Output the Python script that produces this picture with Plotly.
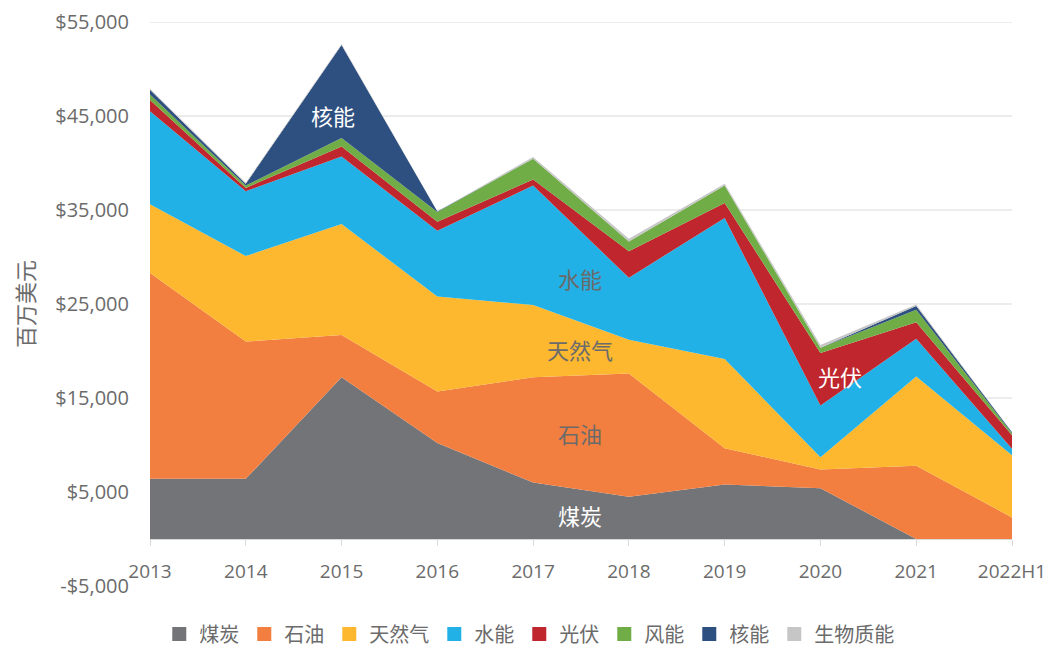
import plotly.graph_objects as go

years = ["2013", "2014", "2015", "2016", "2017", "2018", "2019", "2020", "2021", "2022H1"]

coal = [6400, 6400, 17200, 10200, 6000, 4500, 5800, 5400, 0, 0]
oil = [21900, 14600, 4500, 5500, 11200, 13100, 3850, 2000, 7800, 2300]
gas = [7300, 9100, 11800, 10100, 7700, 3600, 9500, 1300, 9500, 6600]
hydro = [9900, 6900, 7200, 7000, 12700, 6600, 15000, 5500, 4000, 700]
pv = [1200, 350, 1050, 950, 650, 2800, 1600, 5600, 1750, 1450]
wind = [600, 250, 900, 1050, 2200, 1050, 1850, 550, 1350, 200]
nuclear = [500, 200, 9900, 50, 0, 0, 0, 0, 400, 100]
biomass = [100, 100, 100, 0, 200, 300, 200, 300, 150, 0]

series = [
    ("煤炭", coal, "#737478"),
    ("石油", oil, "#F27E3F"),
    ("天然气", gas, "#FDB82F"),
    ("水能", hydro, "#22B1E6"),
    ("光伏", pv, "#BF262D"),
    ("风能", wind, "#70AD47"),
    ("核能", nuclear, "#2E5081"),
    ("生物质能", biomass, "#C6C6C6"),
]

ytick_vals = [-5000, 5000, 15000, 25000, 35000, 45000, 55000]
ytick_text = ["-$5,000", "$5,000", "$15,000", "$25,000", "$35,000", "$45,000", "$55,000"]

FONT = "Noto Sans CJK SC"
NUMFONT = "Open Sans"
GRAY = "#6B6B6B"

fig = go.Figure()
for name, vals, color in series:
    fig.add_trace(go.Scatter(
        x=years, y=vals, name=name, mode="lines",
        stackgroup="one", line=dict(width=0, color=color),
        fillcolor=color, showlegend=False,
    ))
# legend entries (square swatches)
for name, vals, color in series:
    fig.add_trace(go.Scatter(
        x=[None], y=[None], name=name, mode="markers",
        marker=dict(symbol="square", size=14, color=color),
        showlegend=True,
    ))

# area labels
labels = [
    ("核能", 1.91, 45100, "white"),
    ("水能", 4.49, 27800, GRAY),
    ("天然气", 4.49, 20200, GRAY),
    ("石油", 4.49, 11300, GRAY),
    ("煤炭", 4.49, 2550, "white"),
    ("光伏", 7.2, 17300, "white"),
]
for text, xi, yv, col in labels:
    fig.add_annotation(x=xi, y=yv, xref="x", yref="y", text=text, showarrow=False,
                       font=dict(family=FONT, size=22, color=col))

# gridlines
for v in ytick_vals[1:]:
    fig.add_shape(type="line", xref="paper", yref="y", x0=0, x1=1, y0=v, y1=v,
                  line=dict(color="#D9D9D9", width=1), layer="below")

fig.update_layout(
    width=1043, height=680,
    margin=dict(l=142, r=39, t=14, b=102),
    plot_bgcolor="white", paper_bgcolor="white",
    font=dict(family=FONT, color=GRAY, size=18),
    showlegend=True,
    legend=dict(orientation="h", x=0.44, xanchor="center", y=-48 / 564, yanchor="middle",
                font=dict(family=FONT, size=20, color=GRAY), traceorder="normal",
                itemwidth=30, tracegroupgap=0),
    xaxis=dict(
        type="category", range=[0, 9], anchor="free", position=5000 / 60000,
        showline=True, linecolor="#D9D9D9", linewidth=1,
        ticks="outside", ticklen=6, tickcolor="#D9D9D9",
        showgrid=False, tickfont=dict(family=NUMFONT, size=19, color=GRAY),
        ticklabelstandoff=9, automargin=False,
    ),
    yaxis=dict(
        range=[-5000, 55000], tickvals=ytick_vals, ticktext=ytick_text,
        showgrid=False, zeroline=False, showline=False,
        tickfont=dict(family=NUMFONT, size=20, color=GRAY),
        ticklabelstandoff=20, automargin=False,
        title=dict(text="百万美元", font=dict(family=FONT, size=22, color=GRAY), standoff=26),
    ),
)

fig.write_html("out.html")
